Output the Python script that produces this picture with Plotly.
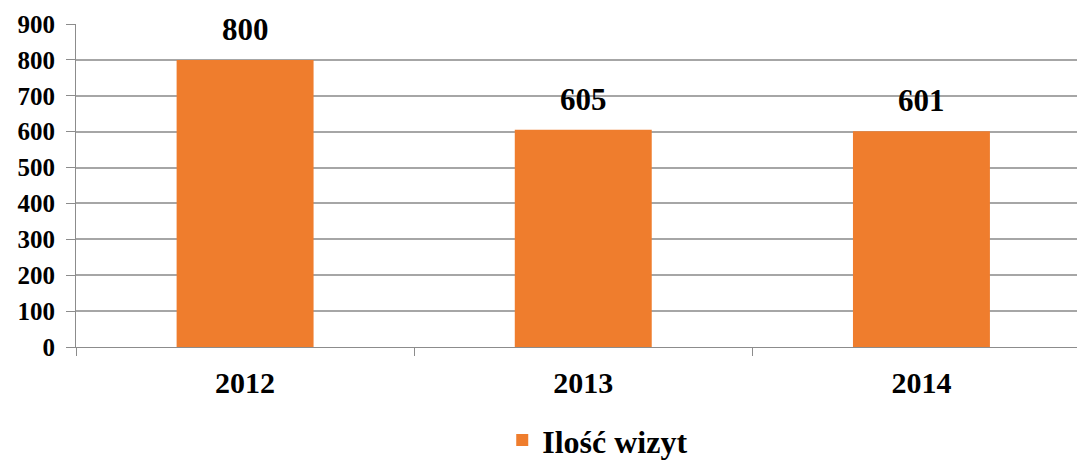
import plotly.graph_objects as go

categories = ["2012", "2013", "2014"]
values = [800, 605, 601]
series_name = "Ilość wizyt"
y_ticks = [0, 100, 200, 300, 400, 500, 600, 700, 800, 900]

FONT = "Liberation Serif, Times New Roman, serif"
BAR_COLOR = "#EF7D2D"
GRID = "#A6A6A6"

fig = go.Figure()
fig.add_trace(go.Bar(
    x=categories, y=values, name=series_name,
    marker=dict(color=BAR_COLOR, line=dict(width=0)),
    width=0.405, showlegend=True,
))

for i, v in enumerate(values):
    fig.add_annotation(x=i, y=v, text=str(v), showarrow=False,
                       yanchor="bottom", yshift=11,
                       font=dict(family=FONT, size=31, color="black", weight="bold"))

fig.update_layout(
    width=1077, height=461,
    margin=dict(l=76, r=0, t=24, b=114, autoexpand=False),
    paper_bgcolor="white", plot_bgcolor="white",
    font=dict(family=FONT, color="black", weight="bold"),
    showlegend=True,
    legend=dict(orientation="h", xref="container", yref="container",
                x=0.555, xanchor="center", y=0.045, yanchor="middle",
                font=dict(family=FONT, size=32, color="black", weight="bold"),
                itemwidth=30),
    xaxis=dict(type="category", range=[-0.5, 2.46], automargin=False,
               showline=True, linecolor="#8C8C8C", linewidth=1,
               ticks="outside", tickson="boundaries", ticklen=8, tickcolor="#8C8C8C",
               showgrid=False, tickfont=dict(family=FONT, size=30, color="black", weight="bold"),
               ticklabelstandoff=9),
    yaxis=dict(range=[0, 900], tickvals=y_ticks, ticktext=[str(t) for t in y_ticks],
               automargin=False,
               showline=True, linecolor="#8C8C8C", linewidth=1,
               ticks="outside", ticklen=9, tickcolor="#8C8C8C",
               showgrid=True, gridcolor=GRID, gridwidth=1.5, zeroline=False,
               tickfont=dict(family=FONT, size=25, color="black", weight="bold"),
               ticklabelstandoff=6),
)

fig.write_html(
    "out.html",
    config={"displayModeBar": False},
    post_script="document.body.style.margin='0';document.body.style.overflow='hidden';"
                "Plotly.Plots.resize(document.getElementById('{plot_id}'));",
)
